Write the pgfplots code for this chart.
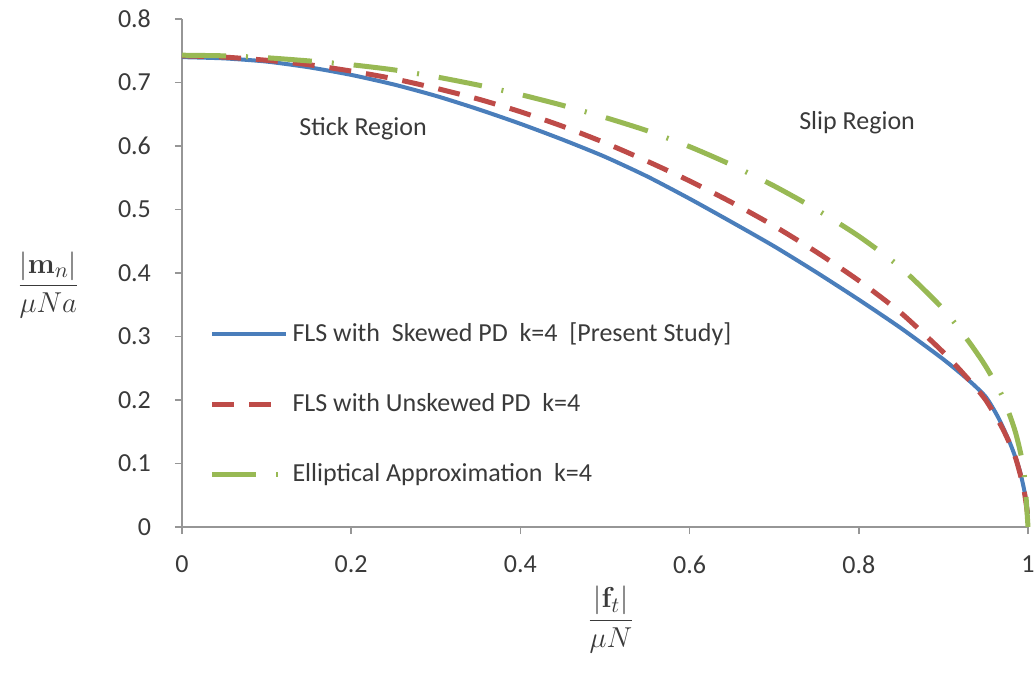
\documentclass[border=0pt]{standalone}
\usepackage[no-math]{fontspec}
\setmainfont{Carlito}
\usepackage{pgfplots}
\pgfplotsset{compat=1.18}
\definecolor{xlblue}{HTML}{4A7EBB}
\definecolor{xlred}{HTML}{BE4B48}
\definecolor{xlgreen}{HTML}{98B954}
\definecolor{axisgray}{HTML}{969696}
\definecolor{txt}{HTML}{3A3A3A}

\begin{document}
\fontsize{13}{15}\selectfont
\begin{tikzpicture}
\useasboundingbox (-91pt,-74pt) rectangle (426.5pt,263.5pt);
\begin{axis}[
    at={(0,0)}, anchor=south west,
    scale only axis,
    width=423pt, height=254pt,
    xmin=0, xmax=1, ymin=0, ymax=0.8,
    xtick={0,0.2,0.4,0.6,0.8,1},
    ytick={0,0.1,0.2,0.3,0.4,0.5,0.6,0.7,0.8},
    axis lines=left,
    axis line style={-, draw=axisgray, line width=0.7pt},
    tick align=outside,
    major tick length=3.5pt,
    tick style={draw=axisgray, line width=0.7pt},
    /pgf/number format/assume math mode=true,
    ticklabel style={font=\fontsize{13}{15}\selectfont, text=txt},
    xticklabel style={yshift=-6.5pt},
    yticklabel style={xshift=-7.5pt},
    clip=false,
    legend style={draw=none, fill=none, at={(axis description cs:0.025,0.418)},
        anchor=north west, row sep=20pt, font=\fontsize{13}{15}\selectfont,
        text=txt},
    legend cell align=left,
    legend image code/.code={\draw[#1] (0pt,0pt) -- (37pt,0pt);},
]
\addplot[xlblue, line width=2pt, smooth, tension=0.4] coordinates {
    (0,0.740) (0.05,0.738) (0.10,0.733) (0.15,0.724) (0.20,0.712)
    (0.25,0.697) (0.30,0.679) (0.35,0.658) (0.40,0.635) (0.45,0.610)
    (0.50,0.583) (0.55,0.552) (0.60,0.517) (0.65,0.480) (0.70,0.442)
    (0.75,0.401) (0.80,0.358) (0.85,0.313) (0.90,0.264) (0.93,0.231)
    (0.95,0.205) (0.965,0.172) (0.98,0.128) (0.99,0.090) (0.996,0.055)
    (1.0,0.02)
};
\addlegendentry{FLS with\ \ Skewed PD\ \ k=4\ \ [Present Study]}

\addplot[xlred, line width=2.5pt, dash pattern=on 11pt off 7.5pt, smooth, tension=0.4] coordinates {
    (0,0.742) (0.05,0.740) (0.10,0.735) (0.15,0.728) (0.20,0.718)
    (0.25,0.706) (0.30,0.691) (0.35,0.674) (0.40,0.654) (0.45,0.631)
    (0.50,0.605) (0.55,0.576) (0.60,0.545) (0.65,0.511) (0.70,0.474)
    (0.75,0.433) (0.80,0.388) (0.85,0.337) (0.90,0.275) (0.93,0.232)
    (0.95,0.200) (0.97,0.155) (0.985,0.110) (0.995,0.060) (1.0,0.015)
};
\addlegendentry{FLS with Unskewed PD\ \ k=4}

\addplot[xlgreen, line width=2.5pt, dash pattern=on 22pt off 10pt on 1pt off 10pt, smooth, tension=0.4] coordinates {
    (0,0.743) (0.05,0.742) (0.10,0.739) (0.15,0.734) (0.20,0.728)
    (0.25,0.720) (0.30,0.709) (0.35,0.696) (0.40,0.681) (0.45,0.664)
    (0.50,0.645) (0.55,0.624) (0.60,0.599) (0.65,0.570) (0.70,0.537)
    (0.75,0.500) (0.80,0.458) (0.85,0.408) (0.90,0.343) (0.93,0.292)
    (0.95,0.253) (0.97,0.205) (0.985,0.150) (0.995,0.090) (1.0,0.0)
};
\addlegendentry{Elliptical Approximation\ \ k=4}

\node[text=txt, font=\fontsize{13}{15}\selectfont] at (axis cs:0.214,0.628) {Stick Region};
\node[text=txt, font=\fontsize{13}{15}\selectfont] at (axis cs:0.798,0.636) {Slip Region};
\node[text=txt, font=\fontsize{15}{18}\selectfont] at (axis description cs:0.507,-0.182)
    {$\displaystyle\frac{|\mathbf{f}_t|}{\mu N}$};
\node[text=txt, font=\fontsize{15}{18}\selectfont] at (axis description cs:-0.158,0.477)
    {$\displaystyle\frac{|\mathbf{m}_n|}{\mu N a}$};
\end{axis}
\end{tikzpicture}
\end{document}
